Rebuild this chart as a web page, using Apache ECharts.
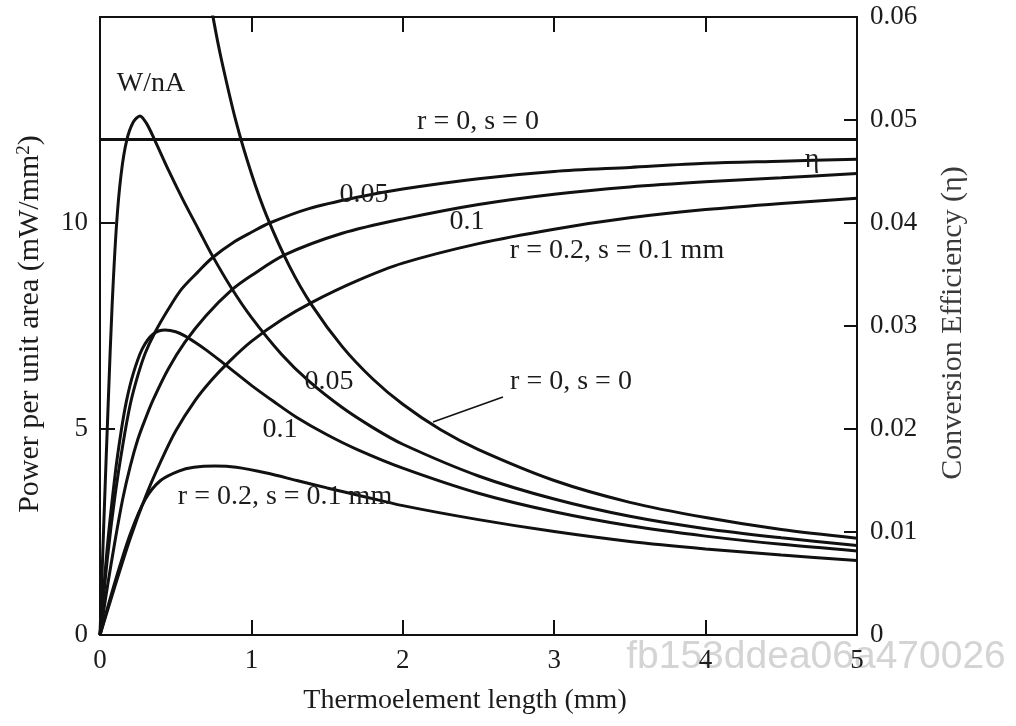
<!DOCTYPE html>
<html>
<head>
<meta charset="utf-8">
<title>Thermoelement power and efficiency</title>
<script src="https://cdn.jsdelivr.net/npm/echarts/dist/echarts.min.js"></script>
<style>
  html, body { margin: 0; padding: 0; background: #fff; }
  #chart { width: 1016px; height: 726px; }
</style>
</head>
<body>
<div id="chart"></div>
<script>
// Thermoelement length L (mm) paired with power per unit area W/nA (mW/mm^2)
const powerIdeal = [[0.70,16.0],[0.75,14.93],[0.8,14.0],[0.9,12.44],[1.0,11.2],[1.1,10.18],[1.25,8.96],[1.4,8.0],[1.6,7.0],[1.8,6.22],[2.0,5.6],[2.25,4.98],[2.5,4.5],[3.0,3.75],[3.5,3.22],[4.0,2.85],[4.5,2.56],[5.0,2.35]];
const power005 = [[0,0],[0.025,2.7],[0.055,5.7],[0.08,8.0],[0.11,10.0],[0.14,11.2],[0.176,12.0],[0.22,12.45],[0.264,12.6],[0.31,12.4],[0.363,12.0],[0.45,11.3],[0.55,10.55],[0.65,9.85],[0.74,9.22],[0.87,8.41],[1.0,7.71],[1.2,6.81],[1.38,6.16],[1.6,5.52],[1.8,5.04],[2.0,4.63],[2.5,3.86],[3.0,3.30],[3.5,2.88],[4.0,2.58],[4.5,2.36],[5.0,2.17]];
const power01 = [[0,0],[0.05,2.2],[0.1,3.9],[0.14,4.95],[0.176,5.7],[0.22,6.35],[0.28,6.95],[0.35,7.3],[0.43,7.4],[0.5,7.36],[0.56,7.26],[0.63,7.1],[0.7,6.92],[0.8,6.64],[0.9,6.35],[1.0,6.06],[1.15,5.66],[1.3,5.28],[1.5,4.86],[1.7,4.5],[2.0,4.05],[2.5,3.44],[3.0,2.99],[3.5,2.65],[4.0,2.40],[4.5,2.20],[5.0,2.04]];
const power02 = [[0,0],[0.1,1.3],[0.2,2.45],[0.3,3.3],[0.4,3.75],[0.52,3.98],[0.62,4.07],[0.76,4.1],[0.9,4.07],[1.1,3.93],[1.3,3.75],[1.5,3.57],[1.7,3.4],[2.0,3.14],[2.5,2.80],[3.0,2.51],[3.5,2.27],[4.0,2.09],[4.5,1.94],[5.0,1.81]];

// Thermoelement length L (mm) paired with conversion efficiency eta
const etaIdeal = [[0,0.0481],[5,0.0481]];
const eta005 = [[0,0],[0.05,0.0076],[0.1,0.0136],[0.15,0.0184],[0.2,0.0224],[0.25,0.0252],[0.3,0.0274],[0.36,0.0293],[0.45,0.0316],[0.54,0.0336],[0.65,0.0353],[0.74,0.0366],[0.89,0.0382],[1.0,0.0391],[1.12,0.04],[1.38,0.0414],[1.7,0.0425],[2.0,0.0433],[2.5,0.0443],[3.0,0.045],[3.5,0.0454],[4.0,0.0458],[4.5,0.0460],[5.0,0.0462]];
const eta01 = [[0,0],[0.05,0.0048],[0.1,0.0092],[0.15,0.0132],[0.2,0.0164],[0.25,0.019],[0.3,0.021],[0.35,0.0228],[0.45,0.0258],[0.56,0.0284],[0.7,0.031],[0.87,0.0335],[1.0,0.0349],[1.22,0.0369],[1.6,0.039],[2.0,0.0404],[2.5,0.0418],[3.0,0.0428],[3.5,0.0435],[4.0,0.044],[4.5,0.0444],[5.0,0.0448]];
const eta02 = [[0,0],[0.1,0.0048],[0.2,0.0094],[0.3,0.0134],[0.4,0.0168],[0.5,0.0198],[0.63,0.0228],[0.74,0.0248],[0.85,0.0265],[1.0,0.0285],[1.2,0.0306],[1.4,0.0323],[1.7,0.0344],[2.0,0.0361],[2.5,0.038],[3.0,0.0394],[3.5,0.0405],[4.0,0.0413],[4.5,0.0419],[5.0,0.0424]];

// Axis ranges
const lengthRange = [0, 5];
const powerRange = [0, 15];
const etaRange = [0, 0.06];

const SERIF = '"Liberation Serif", "Times New Roman", serif';
const INK = '#111111';
const TEXT = '#1c1c1c';

const chart = echarts.init(document.getElementById('chart'), null, { renderer: 'canvas' });

function curve(name, data, yIndex) {
  return {
    name: name,
    type: 'line',
    xAxisIndex: 0,
    yAxisIndex: yIndex,
    data: data,
    smooth: 0.3,
    showSymbol: false,
    symbol: 'none',
    clip: true,
    lineStyle: { color: INK, width: 3 },
    emphasis: { disabled: true },
    z: 3
  };
}

function note(text, x, y, size) {
  return {
    type: 'text',
    x: x,
    y: y,
    silent: true,
    z: 50,
    style: {
      text: text,
      font: (size || 28) + 'px ' + SERIF,
      fill: TEXT,
      align: 'center',
      verticalAlign: 'middle'
    }
  };
}

const frameLine = { show: true, onZero: false, lineStyle: { color: INK, width: 2 } };
const innerTick = (len) => ({ show: true, inside: true, length: len, lineStyle: { color: INK, width: 2 } });
const tickFont = { color: TEXT, fontFamily: SERIF, fontSize: 27 };

const option = {
  animation: false,
  backgroundColor: '#ffffff',
  grid: { left: 100, right: 159, top: 17, bottom: 91, containLabel: false },
  xAxis: [
    {
      type: 'value', min: lengthRange[0], max: lengthRange[1], interval: 1, position: 'bottom',
      axisLine: frameLine, axisTick: innerTick(15), splitLine: { show: false },
      axisLabel: Object.assign({ margin: 12 }, tickFont)
    },
    {
      type: 'value', min: lengthRange[0], max: lengthRange[1], interval: 1, position: 'top',
      axisLine: frameLine, axisTick: innerTick(15), splitLine: { show: false },
      axisLabel: { show: false }
    }
  ],
  yAxis: [
    {
      type: 'value', min: powerRange[0], max: powerRange[1], interval: 5, position: 'left',
      axisLine: frameLine, axisTick: innerTick(15), splitLine: { show: false },
      axisLabel: Object.assign({ margin: 12, showMaxLabel: false }, tickFont)
    },
    {
      type: 'value', min: etaRange[0], max: etaRange[1], interval: 0.01, position: 'right',
      axisLine: frameLine, axisTick: innerTick(13), splitLine: { show: false },
      axisLabel: Object.assign({
        margin: 13,
        formatter: (v) => (v === 0 ? '0' : v.toFixed(2))
      }, tickFont)
    }
  ],
  series: [
    curve('W/nA r=0, s=0', powerIdeal, 0),
    curve('W/nA 0.05', power005, 0),
    curve('W/nA 0.1', power01, 0),
    curve('W/nA r=0.2, s=0.1 mm', power02, 0),
    curve('eta r=0, s=0', etaIdeal, 1),
    curve('eta 0.05', eta005, 1),
    curve('eta 0.1', eta01, 1),
    curve('eta r=0.2, s=0.1 mm', eta02, 1)
  ],
  graphic: [
    // faint watermark along the lower right edge
    {
      type: 'text', x: 816, y: 657, z: -10, silent: true,
      style: {
        text: 'fb153ddea06a470026',
        font: '39px "Liberation Sans", Arial, sans-serif',
        fill: '#d4d4d4', align: 'center', verticalAlign: 'middle'
      }
    },
    // curve annotations
    note('W/nA', 151, 84),
    note('r = 0, s = 0', 478, 122),
    note('0.05', 364, 195),
    note('0.1', 467, 222),
    note('r = 0.2, s = 0.1 mm', 617, 251),
    note('η', 812, 160),
    note('0.05', 329, 382),
    note('r = 0, s = 0', 571, 382),
    note('0.1', 280, 430),
    note('r = 0.2, s = 0.1 mm', 285, 497),
    {
      type: 'line', silent: true, z: 50,
      shape: { x1: 433, y1: 422, x2: 503, y2: 397 },
      style: { stroke: INK, lineWidth: 1.6 }
    },
    // axis titles
    note('Thermoelement length (mm)', 465, 701),
    {
      type: 'text', x: 30, y: 324, rotation: Math.PI / 2, silent: true, z: 50,
      style: {
        text: 'Power per unit area (mW/mm{sup|2})',
        font: '30px ' + SERIF,
        fill: TEXT, align: 'center', verticalAlign: 'middle',
        rich: { sup: { font: '19px ' + SERIF, fill: TEXT, verticalAlign: 'top' } }
      }
    },
    {
      type: 'text', x: 953, y: 323, rotation: Math.PI / 2, silent: true, z: 50,
      style: {
        text: 'Conversion Efficiency (η)',
        font: '30px ' + SERIF,
        fill: '#3a3a3a', align: 'center', verticalAlign: 'middle'
      }
    }
  ]
};

chart.setOption(option);
</script>
</body>
</html>
